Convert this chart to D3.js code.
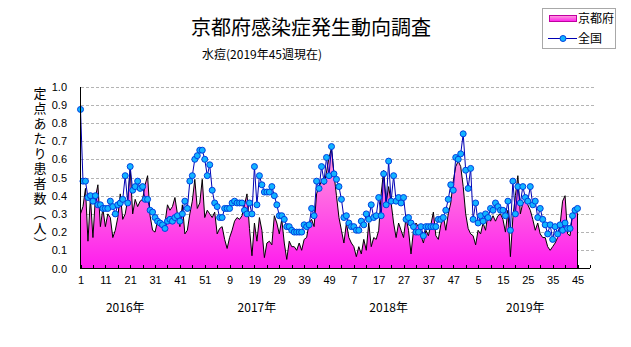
<!DOCTYPE html>
<html><head><meta charset="utf-8">
<script src="https://cdn.jsdelivr.net/npm/d3@7"></script>
<style>
html,body{margin:0;padding:0;background:#fff;}
svg{display:block;}
.jp{font-family:"Noto Sans CJK JP","Noto Sans",sans-serif;}
.num{font-family:"Liberation Sans Narrow","Liberation Sans",sans-serif;}
</style></head>
<body>
<script>
// ---- data ----
const title = "京都府感染症発生動向調査";
const subtitle = "水痘(2019年45週現在)";
const yAxisTitle = "定点あたり患者数（人）";
const seriesNames = ["京都府", "全国"];
const years = ["2016年", "2017年", "2018年", "2019年"];
const weeksPerYear = [52, 52, 52, 45];
const xTickLabels = ["1","11","21","31","41","51","9","19","29","39","49","7","17","27","37","47","5","15","25","35","45"];
const yTickLabels = ["0.0","0.1","0.2","0.3","0.4","0.5","0.6","0.7","0.8","0.9","1.0"];

const kyoto = [
0.30,0.34,0.44,0.15,0.39,0.17,0.39,0.46,0.23,0.33,0.23,0.30,0.28,0.17,0.21,0.28,0.41,0.27,0.30,0.38,
0.55,0.30,0.38,0.34,0.37,0.38,0.46,0.51,0.29,0.21,0.20,0.26,0.23,0.24,0.25,0.35,0.32,0.34,0.39,0.30,
0.23,0.35,0.19,0.21,0.30,0.37,0.49,0.33,0.36,0.49,0.28,0.32,0.30,0.28,0.31,0.19,0.22,0.23,0.16,0.11,
0.17,0.21,0.26,0.28,0.27,0.29,0.35,0.41,0.22,0.07,0.25,0.15,0.28,0.21,0.06,0.14,0.15,0.13,0.29,0.25,
0.19,0.27,0.14,0.05,0.15,0.12,0.12,0.10,0.14,0.10,0.16,0.17,0.25,0.27,0.23,0.41,0.45,0.48,0.46,0.53,
0.61,0.66,0.52,0.40,0.28,0.21,0.14,0.25,0.17,0.14,0.12,0.065,0.12,0.08,0.16,0.10,0.25,0.12,0.17,0.16,
0.21,0.41,0.54,0.36,0.45,0.36,0.25,0.17,0.25,0.21,0.17,0.28,0.21,0.08,0.21,0.25,0.23,0.18,0.14,0.21,
0.18,0.24,0.31,0.18,0.16,0.24,0.29,0.21,0.30,0.36,0.48,0.56,0.59,0.56,0.45,0.30,0.22,0.19,0.18,0.13,
0.21,0.19,0.25,0.21,0.30,0.26,0.29,0.26,0.29,0.30,0.27,0.20,0.32,0.065,0.28,0.40,0.51,0.30,0.36,0.37,
0.35,0.32,0.27,0.21,0.25,0.19,0.17,0.17,0.12,0.10,0.12,0.14,0.17,0.24,0.37,0.40,0.19,0.18,0.30,0.33,
0.30];

const zenkoku = [
0.874,0.48,0.48,0.39,0.40,0.37,0.40,0.35,0.35,0.33,0.33,0.33,0.37,0.34,0.30,0.35,0.36,0.38,0.51,0.36,
0.56,0.43,0.45,0.48,0.44,0.45,0.38,0.38,0.32,0.31,0.28,0.26,0.25,0.24,0.22,0.26,0.27,0.26,0.28,0.29,
0.26,0.30,0.37,0.33,0.48,0.51,0.60,0.62,0.65,0.65,0.60,0.51,0.57,0.43,0.36,0.34,0.28,0.28,0.33,0.33,
0.33,0.36,0.37,0.36,0.36,0.36,0.32,0.30,0.36,0.30,0.56,0.35,0.51,0.46,0.42,0.42,0.42,0.45,0.40,0.35,
0.29,0.29,0.27,0.23,0.23,0.21,0.20,0.20,0.20,0.20,0.24,0.23,0.24,0.33,0.29,0.48,0.44,0.56,0.48,0.61,
0.51,0.67,0.52,0.49,0.45,0.38,0.28,0.29,0.25,0.23,0.23,0.21,0.21,0.26,0.24,0.30,0.27,0.35,0.28,0.29,
0.39,0.29,0.52,0.35,0.59,0.37,0.51,0.37,0.39,0.36,0.39,0.27,0.28,0.25,0.23,0.20,0.20,0.23,0.18,0.23,
0.23,0.23,0.23,0.23,0.27,0.27,0.28,0.32,0.38,0.46,0.43,0.61,0.60,0.63,0.74,0.54,0.44,0.55,0.27,0.36,
0.25,0.29,0.26,0.30,0.28,0.33,0.32,0.36,0.34,0.32,0.32,0.29,0.37,0.21,0.48,0.30,0.45,0.36,0.45,0.39,
0.37,0.45,0.35,0.37,0.28,0.33,0.27,0.24,0.19,0.24,0.16,0.23,0.19,0.24,0.21,0.25,0.22,0.22,0.29,0.32,
0.33];

// categories: one per week
const categories = [];
years.forEach((yr, k) => { for (let w = 1; w <= weeksPerYear[k]; w++) categories.push({year: yr, week: w}); });
const n = categories.length;

// ---- chart ----
const W = 631, H = 347;
const svg = d3.select("body").append("svg").attr("width", W).attr("height", H);

const x = d3.scaleLinear().domain([0, n + 4]).range([80.5, 80.5 + (n + 4) * 2.485]);
const y = d3.scaleLinear().domain([0, 1]).range([268.5, 86.5]);

// gradient
const defs = svg.append("defs");
const grad = defs.append("linearGradient").attr("id", "mg")
  .attr("gradientUnits", "userSpaceOnUse").attr("x1", 0).attr("x2", 0)
  .attr("y1", y(0.7)).attr("y2", y(0));
grad.append("stop").attr("offset", 0).attr("stop-color", "#ffa2da");
grad.append("stop").attr("offset", 1).attr("stop-color", "#ff1cee");
const lg = defs.append("linearGradient").attr("id", "lg").attr("x1", 0).attr("x2", 0).attr("y1", 0).attr("y2", 1);
lg.append("stop").attr("offset", 0).attr("stop-color", "#ffa2da");
lg.append("stop").attr("offset", 1).attr("stop-color", "#ff1cee");

// gridlines
svg.append("g").selectAll("line").data(d3.range(1, 11).map(d => d / 10)).join("line")
  .attr("x1", 80.5).attr("x2", 595).attr("y1", d => Math.round(y(d)) + 0.5).attr("y2", d => Math.round(y(d)) + 0.5)
  .attr("stroke", "#b4b4b4").attr("stroke-dasharray", "3,2").attr("shape-rendering", "crispEdges");

// area Kyoto
const area = d3.area().x((d, i) => x(i)).y0(y(0)).y1(d => y(d));
svg.append("path").datum(kyoto).attr("d", area).attr("fill", "url(#mg)");
const outline = d3.line().x(d => x(d[0])).y(d => y(d[1]));
const outlinePts = kyoto.map((v, i) => [i, v]).concat([[n - 1, 0]]);
svg.append("path").datum(outlinePts).attr("d", outline)
  .attr("fill", "none").attr("stroke", "#000").attr("stroke-width", 1);

// national line
const line = d3.line().x((d, i) => x(i)).y(d => y(d));
svg.append("path").datum(zenkoku).attr("d", line)
  .attr("fill", "none").attr("stroke", "#0000b4").attr("stroke-width", 1);
svg.append("g").selectAll("circle").data(zenkoku).join("circle")
  .attr("cx", (d, i) => x(i)).attr("cy", d => y(d)).attr("r", 3)
  .attr("fill", "#12b4ff").attr("stroke", "#0040e0").attr("stroke-width", 1);

// axes
const xAxis = d3.axisBottom(x).tickValues(d3.range(0, n + 5, 5)).tickSize(-3).tickSizeOuter(0).tickPadding(8)
  .tickFormat(i => (i % 10 === 0 && i / 10 < xTickLabels.length) ? xTickLabels[i / 10] : "");
const gx = svg.append("g").attr("transform", `translate(0,${y(0) - 0.5})`).call(xAxis);
gx.select(".domain").attr("stroke", "#000").attr("shape-rendering", "crispEdges");
gx.selectAll(".tick line").attr("stroke", "#000").attr("shape-rendering", "crispEdges");
gx.selectAll(".tick text").attr("class", "num").attr("font-size", 11).attr("fill", "#000");

const yAxis = d3.axisLeft(y).tickValues(d3.range(0, 11).map(d => d / 10)).tickSize(0).tickSizeOuter(0).tickPadding(13)
  .tickFormat((d, i) => yTickLabels[i]);
const gy = svg.append("g").attr("transform", "translate(80,0)").call(yAxis);
gy.select(".domain").attr("stroke", "#000").attr("shape-rendering", "crispEdges");
gy.selectAll(".tick text").attr("class", "num").attr("font-size", 11).attr("fill", "#000");

// year labels (placed at a week offset inside each year)
const yearLabelWeekOffset = [18, 19, 20, 23];
let start = 0;
const yearPos = years.map((yr, k) => { const c = start + yearLabelWeekOffset[k]; start += weeksPerYear[k]; return c; });
svg.append("g").selectAll("text").data(years).join("text").attr("class", "jp")
  .attr("x", (d, k) => x(yearPos[k])).attr("y", 312).attr("text-anchor", "middle")
  .attr("font-size", 12).text(d => d);

// titles
svg.append("text").attr("class", "jp").attr("x", 311).attr("y", 35).attr("text-anchor", "middle")
  .attr("font-size", 20).text(title);
svg.append("text").attr("class", "jp").attr("x", 202).attr("y", 59)
  .attr("font-size", 12).text(subtitle);

// y axis title (vertical)
svg.append("text").attr("class", "jp").attr("x", 40).attr("y", 87)
  .attr("font-size", 13).style("writing-mode", "vertical-rl").style("letter-spacing", "2px")
  .text(yAxisTitle);

// legend
const lgG = svg.append("g");
lgG.append("rect").attr("x", 542.5).attr("y", 8.5).attr("width", 73).attr("height", 40)
  .attr("fill", "#fff").attr("stroke", "#a8a8a8");
lgG.append("rect").attr("x", 549.5).attr("y", 15.5).attr("width", 27).attr("height", 6)
  .attr("fill", "url(#lg)").attr("stroke", "#c000a0");
lgG.append("text").attr("class", "jp").attr("x", 578).attr("y", 23).attr("font-size", 12).text(seriesNames[0]);
lgG.append("line").attr("x1", 548).attr("x2", 577).attr("y1", 38.5).attr("y2", 38.5).attr("stroke", "#0000b4");
lgG.append("circle").attr("cx", 563).attr("cy", 38.5).attr("r", 3).attr("fill", "#12b4ff").attr("stroke", "#0040e0");
lgG.append("text").attr("class", "jp").attr("x", 578).attr("y", 43).attr("font-size", 12).text(seriesNames[1]);
</script>
</body></html>
